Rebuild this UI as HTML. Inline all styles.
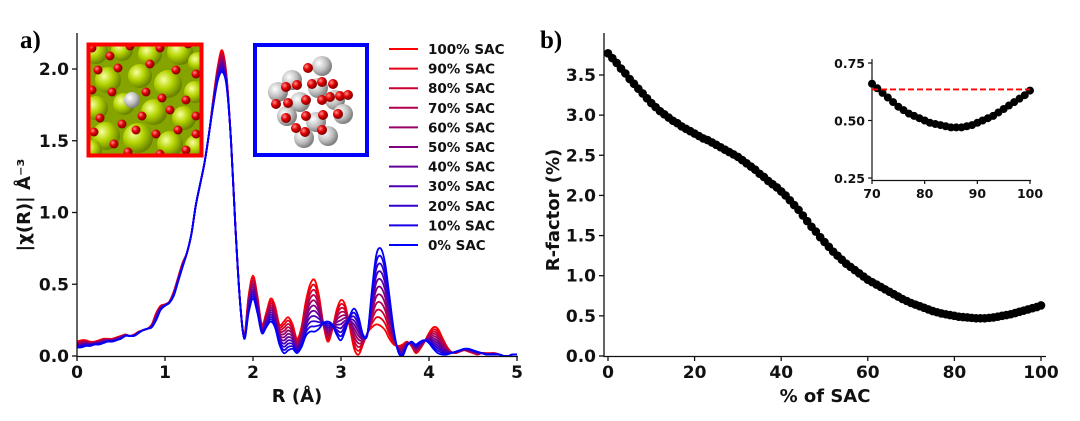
<!DOCTYPE html>
<html><head><meta charset="utf-8"><style>
html,body{margin:0;padding:0;background:#fff;}
svg{display:block;font-family:"DejaVu Sans","Liberation Sans",sans-serif;}
.tk{font-size:17px;font-weight:bold;fill:#111;}
.lab{font-size:18px;font-weight:bold;fill:#111;}
.leg{font-size:13.5px;font-weight:bold;fill:#111;}
.itk{font-size:12.5px;font-weight:bold;fill:#111;}
</style></head><body>
<svg id="fig" width="1080" height="421" viewBox="0 0 1080 421">
<defs>
<radialGradient id="gGreen" cx="35%" cy="35%" r="65%"><stop offset="0" stop-color="#f8ffa0"/><stop offset="0.5" stop-color="#b4d400"/><stop offset="1" stop-color="#6a8400"/></radialGradient>
<radialGradient id="gRed" cx="35%" cy="35%" r="65%"><stop offset="0" stop-color="#ff9090"/><stop offset="0.5" stop-color="#e00000"/><stop offset="1" stop-color="#800000"/></radialGradient>
<radialGradient id="gGray" cx="35%" cy="35%" r="65%"><stop offset="0" stop-color="#ffffff"/><stop offset="0.6" stop-color="#c0c0c0"/><stop offset="1" stop-color="#808080"/></radialGradient>
<clipPath id="clipL"><rect x="89" y="45" width="112" height="110"/></clipPath>
<clipPath id="clipPA"><rect x="77" y="20" width="445" height="337"/></clipPath>
</defs>
<text x="20" y="48" font-family="Liberation Serif, serif" font-weight="bold" font-size="25">a)</text>
<text x="540" y="48" font-family="Liberation Serif, serif" font-weight="bold" font-size="25">b)</text>
<g id="panelA"></g>
<g id="panelB"></g>
</svg>
<script>
// ---------- Panel A data ----------
const rGrid = [0,0.05,0.1,0.15,0.2,0.25,0.3,0.35,0.4,0.45,0.5,0.55,0.6,0.65,0.7,0.75,0.8,0.85,0.9,0.95,1.0,1.05,1.1,1.15,1.2,1.25,1.3,1.35,1.4,1.45,1.5,1.55,1.6,1.65,1.7,1.75,1.8,1.85,1.9,1.95,2.0,2.05,2.1,2.15,2.2,2.25,2.3,2.35,2.4,2.45,2.5,2.55,2.6,2.65,2.7,2.75,2.8,2.85,2.9,2.95,3.0,3.05,3.1,3.15,3.2,3.25,3.3,3.35,3.4,3.45,3.5,3.55,3.6,3.65,3.7,3.75,3.8,3.85,3.9,3.95,4.0,4.05,4.1,4.15,4.2,4.25,4.3,4.35,4.4,4.45,4.5,4.55,4.6,4.65,4.7,4.75,4.8,4.85,4.9,4.95,5.0];
const chi100 = [0.10,0.11,0.11,0.10,0.10,0.11,0.12,0.12,0.12,0.13,0.14,0.15,0.14,0.15,0.17,0.18,0.19,0.22,0.30,0.35,0.36,0.38,0.45,0.55,0.65,0.72,0.85,1.05,1.20,1.35,1.55,1.80,2.02,2.13,1.95,1.50,0.90,0.40,0.15,0.42,0.56,0.42,0.22,0.30,0.40,0.35,0.22,0.24,0.27,0.22,0.12,0.20,0.38,0.50,0.53,0.42,0.22,0.10,0.18,0.32,0.39,0.35,0.20,0.05,0.01,0.08,0.16,0.20,0.22,0.21,0.18,0.12,0.08,0.07,0.08,0.10,0.07,0.02,0.05,0.10,0.16,0.20,0.19,0.13,0.07,0.03,0.02,0.03,0.04,0.03,0.02,0.01,0.02,0.02,0.02,0.02,0.01,0.00,0.00,0.01,0.01];
const chi0 = [0.06,0.06,0.07,0.07,0.08,0.08,0.09,0.10,0.10,0.11,0.12,0.14,0.14,0.14,0.16,0.18,0.19,0.20,0.25,0.32,0.35,0.37,0.42,0.52,0.62,0.72,0.85,1.05,1.20,1.35,1.55,1.75,1.92,1.98,1.88,1.50,0.90,0.40,0.12,0.30,0.40,0.30,0.16,0.20,0.24,0.20,0.08,0.02,0.04,0.05,0.02,0.06,0.14,0.17,0.17,0.19,0.23,0.24,0.22,0.15,0.11,0.18,0.28,0.33,0.27,0.15,0.15,0.45,0.70,0.75,0.65,0.42,0.18,0.03,0.00,0.07,0.10,0.08,0.10,0.11,0.09,0.05,0.02,0.01,0.01,0.02,0.03,0.04,0.05,0.05,0.04,0.03,0.02,0.01,0.01,0.01,0.01,0.00,0.00,0.01,0.01];
const sacFractions = [1.0,0.9,0.8,0.7,0.6,0.5,0.4,0.3,0.2,0.1,0.0];
const legendLabels = ["100% SAC","90% SAC","80% SAC","70% SAC","60% SAC","50% SAC","40% SAC","30% SAC","20% SAC","10% SAC","0% SAC"];
const aXTicks = [0,1,2,3,4,5];
const aYTicks = [0.0,0.5,1.0,1.5,2.0];
const aYTickLabels = ["0.0","0.5","1.0","1.5","2.0"];

// ---------- Panel B data ----------
const sacPct = [];
for (let i = 0; i <= 100; i++) sacPct.push(i);
const rFactor = [3.77,3.71,3.65,3.58,3.52,3.45,3.39,3.33,3.27,3.21,3.15,3.10,3.05,3.01,2.97,2.93,2.90,2.86,2.83,2.80,2.77,2.74,2.71,2.69,2.66,2.63,2.60,2.57,2.54,2.51,2.48,2.44,2.40,2.36,2.32,2.27,2.23,2.18,2.14,2.10,2.05,2.00,1.94,1.88,1.82,1.75,1.68,1.61,1.55,1.48,1.42,1.36,1.30,1.25,1.20,1.15,1.11,1.07,1.03,0.99,0.95,0.92,0.89,0.86,0.83,0.80,0.77,0.74,0.71,0.685,0.66,0.64,0.62,0.60,0.58,0.56,0.545,0.53,0.52,0.51,0.50,0.49,0.485,0.48,0.475,0.47,0.47,0.47,0.475,0.48,0.49,0.50,0.51,0.52,0.535,0.55,0.565,0.58,0.595,0.61,0.63];
const bXTicks = [0,20,40,60,80,100];
const bYTicks = [0.0,0.5,1.0,1.5,2.0,2.5,3.0,3.5];
const bYTickLabels = ["0.0","0.5","1.0","1.5","2.0","2.5","3.0","3.5"];
const insetXTicks = [70,80,90,100];
const insetYTicks = [0.25,0.50,0.75];
const insetYTickLabels = ["0.25","0.50","0.75"];
const thresholdValue = [0.635];

const NS = "http://www.w3.org/2000/svg";
function mk(tag, attrs, parent){ const e=document.createElementNS(NS,tag); for(const k in attrs) e.setAttribute(k,attrs[k]); parent.appendChild(e); return e; }
function smoothPath(pts){
  let d='M'+pts[0][0].toFixed(2)+','+pts[0][1].toFixed(2);
  for(let i=0;i<pts.length-1;i++){
    const p0=pts[i-1]||pts[i], p1=pts[i], p2=pts[i+1], p3=pts[i+2]||p2;
    const c1=[p1[0]+(p2[0]-p0[0])/6, p1[1]+(p2[1]-p0[1])/6];
    const c2=[p2[0]-(p3[0]-p1[0])/6, p2[1]-(p3[1]-p1[1])/6];
    d+='C'+c1[0].toFixed(2)+','+c1[1].toFixed(2)+' '+c2[0].toFixed(2)+','+c2[1].toFixed(2)+' '+p2[0].toFixed(2)+','+p2[1].toFixed(2);
  }
  return d;
}

// axis functions
const ax = v => 77 + v*(517-77)/5;
const ay = v => 356 - v*(356-69)/2.0;
const bx = v => 608 + v*(1041-608)/100;
const by = v => 356 - v*(356-75)/3.5;
const ix = v => 872 + (v-70)*(1030-872)/30;
const iy = v => 178 - (v-0.25)*(178-63)/0.5;

// ----- Panel A -----
const A = document.getElementById('panelA');
const gL = mk('g',{},A);


mk('rect',{x:89,y:45,width:112,height:110,fill:'#86a400'},gL);
const gLc = mk('g',{'clip-path':'url(#clipL)'},gL);
const greens=[[96,52,12],[122,50,11],[150,54,12],[180,52,13],[198,62,10],[108,80,13],[140,76,12],[168,84,14],[195,92,11],[96,108,12],[124,104,11],[154,112,13],[184,118,12],[106,136,14],[138,138,15],[170,144,13],[196,146,11],[92,150,10]];
greens.forEach(c=>mk('circle',{cx:c[0],cy:c[1],r:c[2],fill:'url(#gGreen)'},gLc));
mk('circle',{cx:132,cy:100,r:8,fill:'url(#gGray)'},gLc);
const reds=[[92,48],[110,56],[130,46],[160,48],[188,44],[98,70],[118,68],[150,64],[176,70],[196,74],[92,90],[112,92],[146,92],[162,98],[186,100],[100,118],[122,124],[142,116],[170,110],[196,116],[114,144],[136,130],[156,134],[178,130],[196,134],[94,132],[128,152],[160,154],[186,150]];
reds.forEach(c=>mk('circle',{cx:c[0],cy:c[1],r:4.5,fill:'url(#gRed)'},gLc));
mk('rect',{x:88.5,y:44.5,width:113,height:111,fill:'none',stroke:'#ff0000','stroke-width':4},gL);

const gR = mk('g',{},A);


mk('rect',{x:255,y:45,width:112,height:110,fill:'#fff',stroke:'#0000ff','stroke-width':4},gR);
const grays=[[322,66],[292,80],[278,92],[318,88],[335,100],[300,102],[287,116],[316,122],[343,114],[304,138],[328,136]];
grays.forEach(c=>mk('circle',{cx:c[0],cy:c[1],r:10,fill:'url(#gGray)'},gR));
const reds2=[[308,68],[286,87],[297,85],[312,84],[322,82],[333,84],[276,104],[288,103],[306,100],[322,100],[330,97],[340,96],[348,95],[286,118],[306,116],[323,115],[338,114],[305,132],[322,130],[296,128]];
reds2.forEach(c=>mk('circle',{cx:c[0],cy:c[1],r:5,fill:'url(#gRed)'},gR));

// series
const gS = mk('g',{'clip-path':'url(#clipPA)'},A);
sacFractions.forEach((f,si)=>{
  const col = `rgb(${Math.round(255*f)},0,${Math.round(255*(1-f))})`;
  const pts = rGrid.map((r,i)=>[ax(r), ay(f*chi100[i]+(1-f)*chi0[i])]);
  const p = mk('path',{d:smoothPath(pts),fill:'none',stroke:col,'stroke-width':1.8,'stroke-linejoin':'round'},gS);
  
  
  const ly = 49 + si*19.6;
  const ll = mk('line',{x1:389,x2:418,y1:ly,y2:ly,stroke:col,'stroke-width':2},A);
  
  
  const lt = mk('text',{x:428,y:ly+5,class:'leg'},A);
  
  
  lt.textContent = legendLabels[si];
});
mk('line',{x1:77,x2:77,y1:33,y2:357,stroke:'#111','stroke-width':1.3},A);
mk('line',{x1:76.5,x2:518,y1:356.5,y2:356.5,stroke:'#111','stroke-width':1.3},A);
aXTicks.forEach(t=>{
  mk('line',{x1:ax(t),x2:ax(t),y1:356,y2:361,stroke:'#111','stroke-width':1.3},A);
  const e=mk('text',{x:ax(t),y:378,'text-anchor':'middle',class:'tk'},A);
  
  
  e.textContent=String(t);
});
aYTicks.forEach((t,i)=>{
  mk('line',{x1:72,x2:77,y1:ay(t),y2:ay(t),stroke:'#111','stroke-width':1.3},A);
  const e=mk('text',{x:69,y:ay(t)+6,'text-anchor':'end',class:'tk'},A);
  
  
  e.textContent=aYTickLabels[i];
});
let t=mk('text',{x:297,y:402,'text-anchor':'middle',class:'lab'},A);


t.textContent='R (Å)';
t=mk('text',{x:0,y:0,'text-anchor':'middle',class:'lab',transform:'translate(30,205) rotate(-90)'},A);


t.textContent='|χ(R)| Å⁻³';

// ----- Panel B -----
const B = document.getElementById('panelB');
mk('line',{x1:604,x2:604,y1:33,y2:357,stroke:'#111','stroke-width':1.3},B);
mk('line',{x1:603.5,x2:1046,y1:356.5,y2:356.5,stroke:'#111','stroke-width':1.3},B);
bXTicks.forEach(v=>{
  mk('line',{x1:bx(v),x2:bx(v),y1:356,y2:361,stroke:'#111','stroke-width':1.3},B);
  const e=mk('text',{x:bx(v),y:378,'text-anchor':'middle',class:'tk'},B);
  
  
  e.textContent=String(v);
});
bYTicks.forEach((v,i)=>{
  mk('line',{x1:599,x2:604,y1:by(v),y2:by(v),stroke:'#111','stroke-width':1.3},B);
  const e=mk('text',{x:596,y:by(v)+6,'text-anchor':'end',class:'tk'},B);
  
  
  e.textContent=bYTickLabels[i];
});
const gM = mk('g',{},B);


sacPct.forEach((p,i)=>{
  const c=mk('circle',{cx:bx(p),cy:by(rFactor[i]),r:4.3,fill:'#000'},gM);
  
  
});
t=mk('text',{x:825,y:402,'text-anchor':'middle',class:'lab'},B);


t.textContent='% of SAC';
t=mk('text',{x:0,y:0,'text-anchor':'middle',class:'lab',transform:'translate(559,210) rotate(-90)'},B);


t.textContent='R-factor (%)';

// inset
const I = mk('g',{},B);


mk('rect',{x:873,y:55,width:160,height:124,fill:'#fff'},I);
mk('line',{x1:872,x2:872,y1:59,y2:181,stroke:'#111','stroke-width':1.2},I);
mk('line',{x1:871.5,x2:1031,y1:180.5,y2:180.5,stroke:'#111','stroke-width':1.2},I);
insetXTicks.forEach(v=>{
  mk('line',{x1:ix(v),x2:ix(v),y1:180,y2:184,stroke:'#111','stroke-width':1.2},I);
  const e=mk('text',{x:ix(v),y:198,'text-anchor':'middle',class:'itk'},I);
  
  
  e.textContent=String(v);
});
insetYTicks.forEach((v,i)=>{
  mk('line',{x1:868,x2:872,y1:iy(v),y2:iy(v),stroke:'#111','stroke-width':1.2},I);
  const e=mk('text',{x:865,y:iy(v)+5,'text-anchor':'end',class:'itk'},I);
  
  
  e.textContent=insetYTickLabels[i];
});
sacPct.forEach((p,i)=>{
  if(p<70) return;
  const c=mk('circle',{cx:ix(p),cy:iy(rFactor[i]),r:4,fill:'#000'},I);
  
  
});
const dl=mk('line',{x1:ix(70),x2:ix(100),y1:iy(thresholdValue[0]),y2:iy(thresholdValue[0]),stroke:'#ff0000','stroke-width':1.8,'stroke-dasharray':'6,3'},I);


</script>
</body></html>
